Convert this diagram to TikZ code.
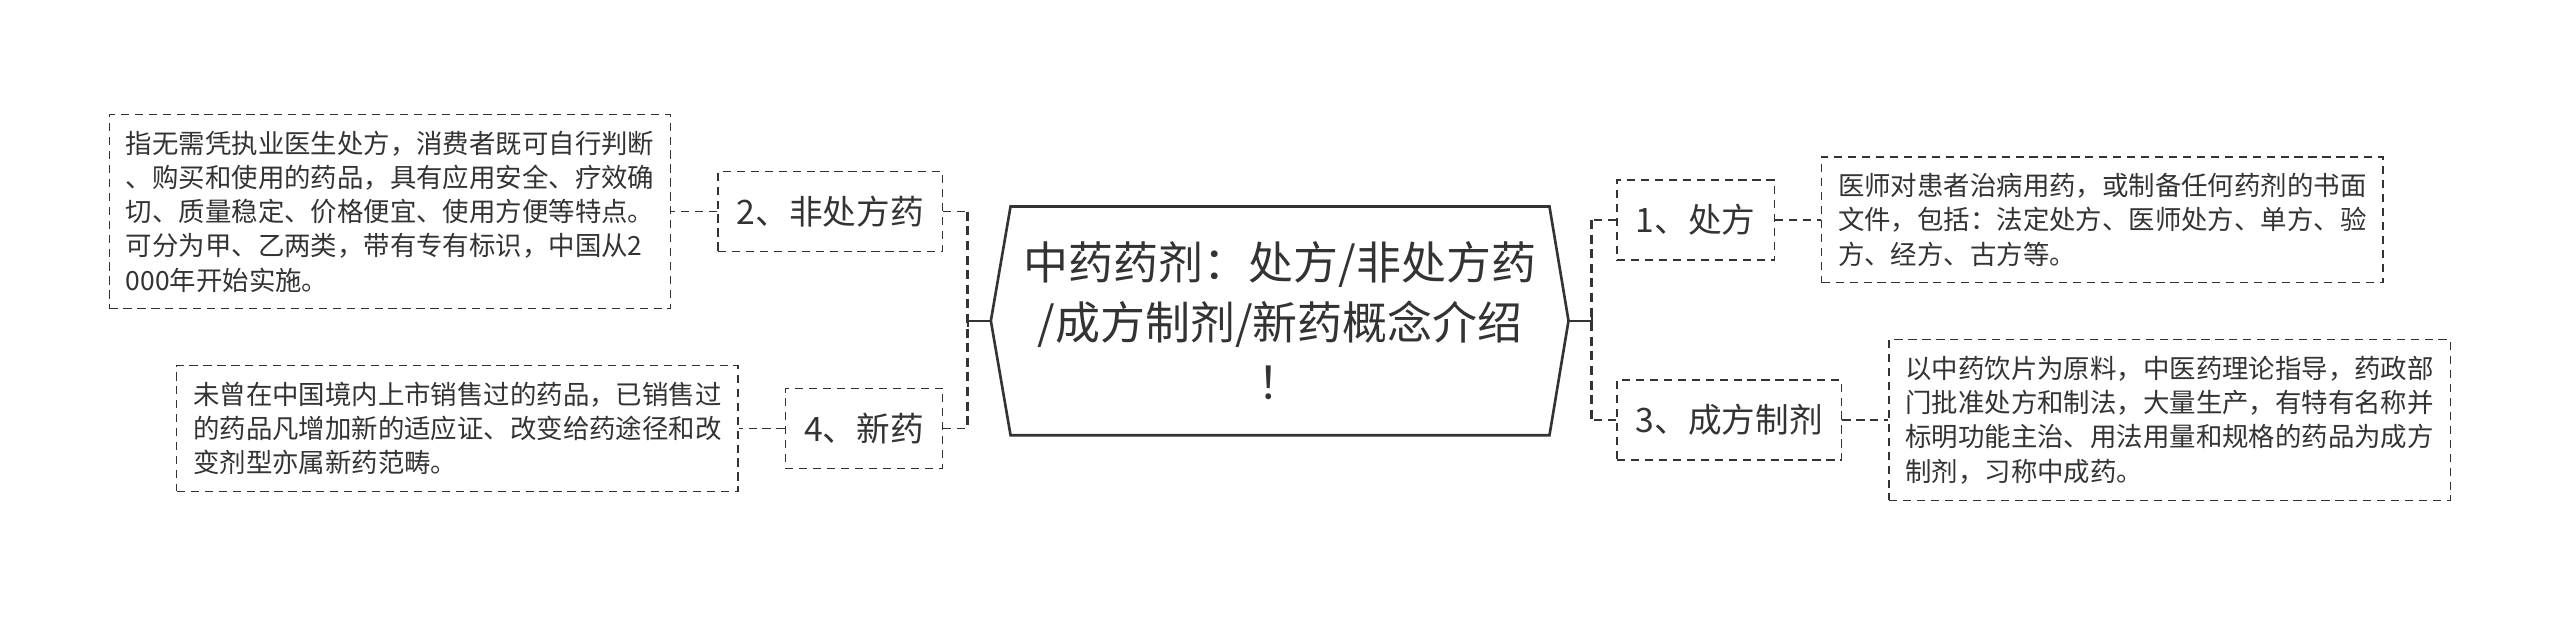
\documentclass[tikz,border=0pt]{standalone}
\usepackage{fontspec}
\setmainfont{Noto Sans CJK SC}
\usetikzlibrary{positioning}
\definecolor{LineClr}{rgb}{0.2,0.2,0.2}
\definecolor{TextClr}{rgb}{0.2,0.2,0.2}

\begin{document}
\begin{tikzpicture}[x=1pt,y=-1pt,node distance=28pt,
  hub/.style={inner sep=0pt,minimum width=328pt,minimum height=139pt,
    text width=322pt,align=center,text=TextClr,
    font=\fontsize{27.4}{36.5}\selectfont},
  topic/.style={draw=LineClr,line width=0.8pt,dash pattern=on 5pt off 3.5pt,
    inner xsep=11.5pt,inner ysep=0pt,minimum height=48.7pt,text=TextClr,
    font=\fontsize{20.5}{24}\selectfont},
  note/.style={draw=LineClr,line width=0.8pt,dash pattern=on 5pt off 3.5pt,
    inner xsep=10pt,inner ysep=10pt,text width=322pt,align=left,text=TextClr,
    font=\fontsize{16.1}{20.85}\selectfont},
  link/.style={draw=LineClr,line width=0.8pt,dash pattern=on 5pt off 3.5pt},
  bracket/.style={draw=LineClr,line width=1.8pt,dash pattern=on 5.5pt off 3.4pt},
  stub/.style={draw=LineClr,line width=1.3pt}]
\useasboundingbox (0,0) rectangle (1560,376.6);

% centre
\node[hub] (hub) at (780,195.5) {中药药剂：处方/非处方药\\/成方制剂/新药概念介绍\\！};
\coordinate (hubL) at ([xshift=-12pt]hub.west);
\coordinate (hubR) at ([xshift=11.6pt]hub.east);
\draw[LineClr,line width=1.6pt] (hub.north west) -- (hub.north east) -- (hubR)
  -- (hub.south east) -- (hub.south west) -- (hubL) -- cycle;

% topics
\node[topic,anchor=west] (rx) at (985,134) {1、处方};
\node[topic,anchor=east] (otc) at (574.8,129) {2、非处方药};
\node[topic,anchor=west] (pcm) at (985,256) {3、成方制剂};
\node[topic,anchor=east] (newdrug) at (574.8,261) {4、新药};

% notes
\node[note,right=of rx] (rxNote) {医师对患者治病用药，或制备任何药剂的书面\\
文件，包括：法定处方、医师处方、单方、验\\
方、经方、古方等。};
\node[note,left=of otc] (otcNote) {指无需凭执业医生处方，消费者既可自行判断\\
、购买和使用的药品，具有应用安全、疗效确\\
切、质量稳定、价格便宜、使用方便等特点。\\
可分为甲、乙两类，带有专有标识，中国从2\\
000年开始实施。};
\node[note,right=of pcm] (pcmNote) {以中药饮片为原料，中医药理论指导，药政部\\
门批准处方和制法，大量生产，有特有名称并\\
标明功能主治、用法用量和规格的药品为成方\\
制剂，习称中成药。};
\node[note,left=of newdrug] (newdrugNote) {未曾在中国境内上市销售过的药品，已销售过\\
的药品凡增加新的适应证、改变给药途径和改\\
变剂型亦属新药范畴。};

% brackets
\coordinate (brL) at (589.7,195.5);
\coordinate (brR) at (970,195.5);
\draw[link] (otc.east) -- (otc.east -| brL);
\draw[link] (newdrug.east) -- (newdrug.east -| brL);
\draw[link] (rx.west) -- (rx.west -| brR);
\draw[link] (pcm.west) -- (pcm.west -| brR);
\draw[bracket] (otc.east -| brL) -- (newdrug.east -| brL);
\draw[bracket] (rx.west -| brR) -- (pcm.west -| brR);
\draw[stub] (brL) -- (hubL);
\draw[stub] ([yshift=3.5pt]brL) -- ([yshift=-3.5pt]brL);
\draw[stub] (hubR) -- (brR);
\draw[stub] ([yshift=3.5pt]brR) -- ([yshift=-3.5pt]brR);

% notes links
\draw[link] (rx) -- (rxNote);
\draw[link] (otc) -- (otcNote);
\draw[link] (pcm) -- (pcmNote);
\draw[link] (newdrug) -- (newdrugNote);
\end{tikzpicture}
\end{document}
